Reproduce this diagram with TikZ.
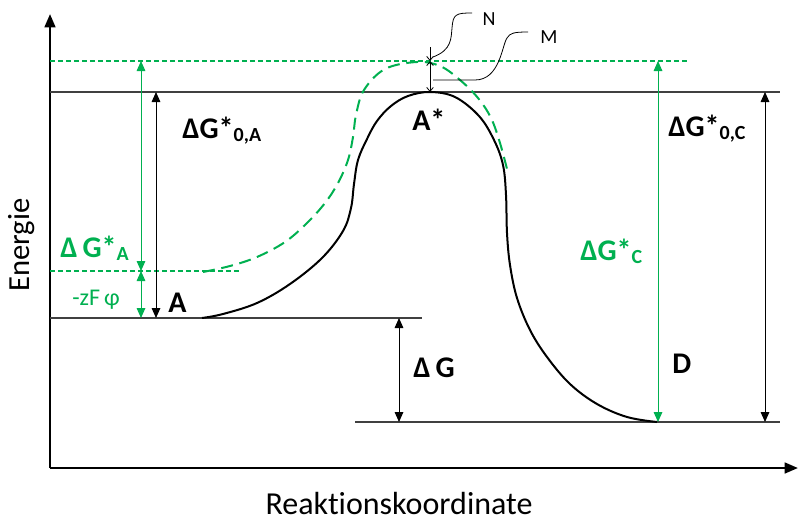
\documentclass[tikz,border=0pt]{standalone}
\usepackage{fontspec}
\setmainfont{Carlito}[Ligatures=NoCommon]
\usepackage{xcolor}
\usetikzlibrary{arrows.meta}
\definecolor{ogreen}{RGB}{0,176,80}

\begin{document}
\begin{tikzpicture}[
  x=0.75pt, y=-0.75pt,
  axis/.style={line width=1.9pt, -{Triangle[length=10pt, width=8pt]}},
  lvl/.style={draw=black!75, line width=0.8pt},
  glvl/.style={draw=ogreen, line width=0.8pt, dash pattern=on 3.5pt off 2.5pt},
  dim/.style={line width=0.75pt,
    {Triangle[length=7.5pt, width=6.5pt]}-{Triangle[length=7.5pt, width=6.5pt]}},
  gdim/.style={dim, draw=ogreen, fill=ogreen},
  tick/.style={line width=0.6pt, {Straight Barb[length=3pt, width=5pt]}-{Straight Barb[length=3pt, width=5pt]}},
  lead/.style={line width=0.6pt},
  lbl/.style={inner sep=0pt, font=\bfseries\fontsize{22.5}{25}\selectfont},
  glbl/.style={lbl, text=ogreen},
  small/.style={inner sep=0pt, font=\fontsize{15}{17}\selectfont},
]
  \useasboundingbox (0,0) rectangle (798,521);

  % Axes
  \coordinate (O) at (50,468);
  \coordinate (Ytop) at (50,14);
  \coordinate (Xend) at (798,468);
  \draw[axis] (O) -- (Ytop);
  \draw[axis] (O) -- (Xend);
  \node[rotate=90, font=\fontsize{23}{26}\selectfont] (ylab) at (22,245) {Energie};
  \node[anchor=base, inner sep=0pt, font=\fontsize{24}{26}\selectfont] (xlab)
    at (399,514) {Reaktionskoordinate};

  % Energy levels
  \coordinate (mL) at (50,61);   \coordinate (mR) at (688,61);
  \coordinate (sL) at (50,92);   \coordinate (sR) at (780,92);
  \coordinate (gL) at (50,271);  \coordinate (gR) at (240,271);
  \coordinate (aL) at (50,318);  \coordinate (aR) at (422,318);
  \coordinate (dL) at (355,422); \coordinate (dR) at (780,422);
  \draw[glvl] (mL) -- (mR);
  \draw[lvl] (sL) -- (sR);
  \draw[glvl] (gL) -- (gR);
  \draw[lvl] (aL) -- (aR);
  \draw[lvl] (dL) -- (dR);

  % Reaction path without and with potential
  \draw[line width=1.5pt] plot[smooth, tension=0.6] coordinates {
    (202,318) (223,314) (257,303) (290,284) (322,258) (343,231) (351,208)
    (354,184) (358,160) (367,139) (377,121) (391,106) (408,96) (430,92)
    (455,97) (479,116) (494,140) (503,165) (506,195) (507,233) (510,265)
    (517,298) (530,330) (547,357) (570,384) (597,404) (627,417) (657,422)};
  \draw[ogreen, line width=1.5pt, dash pattern=on 9pt off 5pt]
    plot[smooth, tension=0.6] coordinates {
    (203,272) (230,266) (257,257) (285,242) (307,223) (325,203) (338,183)
    (348,160) (353,137) (356,115) (364,90) (385,69) (417,62) (440,66)
    (460,80) (478,98) (491,118) (500,143) (508,173)};

  % Dimension arrows
  \path (141,61) coordinate (ga1) (141,271) coordinate (ga2)
    (141,318) coordinate (ga3) (156,92) coordinate (ka1)
    (156,318) coordinate (ka2) (399,318) coordinate (dg1)
    (399,422) coordinate (dg2) (658,61) coordinate (gc1)
    (658,422) coordinate (gc2) (765,92) coordinate (kc1)
    (765,422) coordinate (kc2) (430,47) coordinate (nt)
    (430,61) coordinate (nm) (430,92) coordinate (ns);
  \draw[gdim] (ga1) -- (ga2);
  \draw[gdim] (ga2) -- (ga3);
  \draw[dim] (ka1) -- (ka2);
  \draw[dim] (dg1) -- (dg2);
  \draw[gdim] (gc1) -- (gc2);
  \draw[dim] (kc1) -- (kc2);
  \draw[line width=0.6pt, -{Straight Barb[length=3pt, width=5pt]}] (nt) -- (nm);
  \draw[tick] (nm) -- (ns);

  % Leaders N and M
  \node[small] (N) at (489,19) {N};
  \node[small] (M) at (549,37) {M};
  \coordinate (nfoot) at (433,57);
  \coordinate (mfoot) at (433,80);
  \draw[lead] (nfoot) .. controls (452,50) and (451,38) .. (452,28)
    .. controls (453,14) and (456,13) .. (472,13);
  \draw[lead] (mfoot) -- (475,80) .. controls (500,80) and (502,45) .. (507,38)
    .. controls (510,33) and (514,32) .. (528,32);

  % Labels
  \node[lbl, anchor=base west] (dG0A) at (182,138)
    {ΔG*\raisebox{-2.5pt}{\fontsize{15}{17}\selectfont 0,A}};
  \node[glbl, anchor=base west] (dGA) at (60,257)
    {Δ\,G*\raisebox{-2.5pt}{\fontsize{15}{17}\selectfont A}};
  \node[inner sep=0pt, anchor=base west, text=ogreen,
    font=\fontsize{18}{20}\selectfont] (zF) at (72,305) {-zF\,φ};
  \node[lbl, anchor=base west] (lA) at (168,312) {A};
  \node[lbl, anchor=base west] (lAs) at (412,130) {A*};
  \node[lbl, anchor=base west] (dG0C) at (668,136)
    {ΔG*\raisebox{-2.5pt}{\fontsize{15}{17}\selectfont 0,C}};
  \node[glbl, anchor=base west] (dGC) at (580,260)
    {ΔG*\raisebox{-2.5pt}{\fontsize{15}{17}\selectfont C}};
  \node[lbl, anchor=base west] (lD) at (672,373) {D};
  \node[lbl, anchor=base west] (dG) at (413,377) {Δ\,G};

\end{tikzpicture}
\end{document}
